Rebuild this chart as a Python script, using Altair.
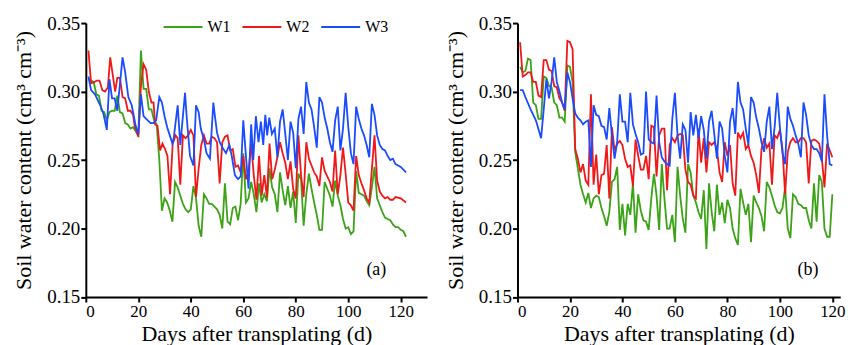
import altair as alt
import pandas as pd

SERIES = ["W1", "W2", "W3"]
COLORS = ["#3ca317", "#f01818", "#1a4bff"]
X_TICKS = [0, 20, 40, 60, 80, 100, 120]
Y_TICKS = [0.15, 0.20, 0.25, 0.30, 0.35]
X_TITLE = "Days after transplating (d)"
Y_TITLE = "Soil water content (cm³ cm⁻³)"
PANEL_LABELS = ["(a)", "(b)"]

# ---------------- panel (a) ----------------
A_W1_DAYS = list(range(1, 123))
A_W1 = [0.309, 0.308, 0.307, 0.298, 0.297, 0.286, 0.285, 0.279, 0.285, 0.286,
        0.286, 0.297, 0.285, 0.284, 0.277, 0.276, 0.273, 0.274, 0.271, 0.268,
        0.330, 0.302, 0.302, 0.287, 0.287, 0.279, 0.276, 0.250, 0.213, 0.222,
        0.219, 0.213, 0.205, 0.234, 0.230, 0.224, 0.218, 0.214, 0.212, 0.214,
        0.231, 0.222, 0.202, 0.194, 0.225, 0.222, 0.218, 0.218, 0.216, 0.214,
        0.210, 0.200, 0.233, 0.205, 0.203, 0.215, 0.216, 0.206, 0.218, 0.255,
        0.219, 0.222, 0.234, 0.225, 0.212, 0.233, 0.219, 0.225, 0.220, 0.244,
        0.230, 0.225, 0.212, 0.241, 0.228, 0.217, 0.231, 0.215, 0.227, 0.204,
        0.240, 0.236, 0.202, 0.225, 0.240, 0.229, 0.219, 0.210, 0.199, 0.199,
        0.234, 0.229, 0.224, 0.216, 0.235, 0.224, 0.217, 0.207, 0.200, 0.201,
        0.196, 0.198, 0.242, 0.226, 0.225, 0.224, 0.220, 0.217, 0.230, 0.245,
        0.222, 0.217, 0.212, 0.208, 0.207, 0.206, 0.203, 0.201, 0.201, 0.199,
        0.198, 0.194]

A_W2_DAYS = [1, 2, 3.3, 4.2, 5.2, 6.3, 7.3, 8.4, 9.3, 10.5,
             11.2, 12, 13, 14, 15, 16, 17, 18, 18.7, 19.5,
             20, 21, 22, 23, 24, 25, 25.8, 26.4, 27.3, 28.3,
             29.2, 30.2, 31.1, 32.1, 33.1, 34.2, 35, 36, 37, 38,
             39, 40, 41, 42, 43, 44, 45, 46, 47, 48,
             49, 50, 51, 52, 53, 54, 55, 56, 57, 58,
             59, 60, 61, 62, 63, 64, 65, 66, 67, 68,
             69, 70, 71, 72, 73, 74, 75, 76, 77, 78,
             79, 80, 81, 82, 83, 84, 85, 86, 87, 88,
             89, 90, 91, 92, 93, 94, 95, 96, 97, 98,
             99, 100, 101, 102, 103, 104, 105, 106, 107, 108,
             110, 111, 112, 113, 114, 115, 116, 117, 118, 120,
             122]
A_W2 = [0.330, 0.306, 0.307, 0.308, 0.308, 0.301, 0.300, 0.303, 0.325, 0.309,
        0.300, 0.310, 0.310, 0.296, 0.295, 0.286, 0.286, 0.283, 0.274, 0.270,
        0.267, 0.304, 0.320, 0.316, 0.300, 0.292, 0.292, 0.276, 0.275, 0.257,
        0.262, 0.258, 0.253, 0.225, 0.262, 0.268, 0.266, 0.232, 0.268, 0.266,
        0.268, 0.272, 0.268, 0.223, 0.244, 0.261, 0.268, 0.262, 0.262, 0.267,
        0.266, 0.263, 0.233, 0.263, 0.267, 0.268, 0.257, 0.258, 0.245, 0.246,
        0.241, 0.253, 0.236, 0.242, 0.262, 0.239, 0.221, 0.253, 0.224, 0.239,
        0.223, 0.262, 0.236, 0.243, 0.252, 0.263, 0.255, 0.248, 0.236, 0.249,
        0.229, 0.222, 0.268, 0.239, 0.223, 0.263, 0.251, 0.246, 0.241, 0.238,
        0.231, 0.252, 0.242, 0.238, 0.234, 0.227, 0.257, 0.225, 0.239, 0.259,
        0.240, 0.219, 0.217, 0.213, 0.253, 0.239, 0.233, 0.228, 0.222, 0.219,
        0.268, 0.235, 0.227, 0.224, 0.222, 0.223, 0.221, 0.221, 0.223, 0.222,
        0.219]

A_W3_DAYS = [1, 2, 3.5, 5.5, 6.7, 8, 9, 10, 11, 12,
             14, 15, 16.2, 17.5, 19, 20, 21, 22, 23, 24.7,
             25.7, 26.8, 28, 29, 30, 31, 32, 33, 33.5, 35,
             36, 37.8, 38.5, 39.7, 41, 42, 43, 43.8, 45, 46,
             47.3, 48.6, 49, 50, 51, 52.4, 53.4, 54.7, 55.6, 56.8,
             58, 59, 60, 61, 62, 63, 63.8, 64.8, 65.8, 66.7,
             67.6, 68.4, 69.1, 69.9, 70.9, 72, 73, 74, 75, 76,
             77, 78, 79, 80, 81, 82, 83, 84, 85, 86,
             87, 88, 89, 90, 91, 92, 93, 94, 95, 96,
             97, 98, 99, 100, 101, 102, 103, 104, 105, 106,
             107, 108, 109, 110, 111, 112, 113, 114, 115, 116,
             117, 118, 119, 120, 122]
A_W3 = [0.311, 0.301, 0.298, 0.290, 0.284, 0.272, 0.309, 0.295, 0.295, 0.286,
        0.325, 0.314, 0.296, 0.290, 0.275, 0.269, 0.298, 0.282, 0.280, 0.277,
        0.277, 0.279, 0.296, 0.292, 0.282, 0.274, 0.268, 0.262, 0.266, 0.290,
        0.261, 0.299, 0.280, 0.253, 0.246, 0.290, 0.285, 0.273, 0.265, 0.255,
        0.251, 0.292, 0.285, 0.270, 0.263, 0.258, 0.255, 0.261, 0.253, 0.239,
        0.236, 0.238, 0.279, 0.253, 0.229, 0.276, 0.250, 0.282, 0.263, 0.278,
        0.261, 0.283, 0.268, 0.281, 0.269, 0.273, 0.252, 0.278, 0.287, 0.269,
        0.250, 0.278, 0.270, 0.244, 0.280, 0.289, 0.269, 0.307, 0.292, 0.287,
        0.274, 0.259, 0.296, 0.292, 0.281, 0.273, 0.263, 0.256, 0.279, 0.289,
        0.257, 0.273, 0.299, 0.274, 0.255, 0.247, 0.289, 0.280, 0.273, 0.268,
        0.261, 0.252, 0.291, 0.283, 0.268, 0.261, 0.258, 0.257, 0.253, 0.250,
        0.251, 0.247, 0.246, 0.245, 0.241]

# ---------------- panel (b) ----------------
B_W1_DAYS = list(range(1, 121))
B_W1 = [0.318, 0.314, 0.315, 0.324, 0.323, 0.292, 0.290, 0.280, 0.280, 0.311,
        0.310, 0.304, 0.303, 0.292, 0.290, 0.281, 0.281, 0.278, 0.319, 0.318,
        0.307, 0.256, 0.244, 0.232, 0.225, 0.219, 0.226, 0.215, 0.222, 0.224,
        0.223, 0.215, 0.209, 0.202, 0.212, 0.234, 0.236, 0.245, 0.199, 0.218,
        0.195, 0.218, 0.210, 0.233, 0.197, 0.225, 0.213, 0.206, 0.205, 0.199,
        0.222, 0.240, 0.224, 0.199, 0.247, 0.222, 0.200, 0.200, 0.210, 0.190,
        0.245, 0.224, 0.207, 0.197, 0.247, 0.241, 0.224, 0.219, 0.212, 0.207,
        0.228, 0.185, 0.233, 0.212, 0.198, 0.232, 0.210, 0.219, 0.204, 0.221,
        0.215, 0.200, 0.193, 0.188, 0.229, 0.219, 0.210, 0.218, 0.190, 0.224,
        0.219, 0.215, 0.209, 0.198, 0.234, 0.230, 0.224, 0.217, 0.212, 0.211,
        0.215, 0.230, 0.200, 0.193, 0.225, 0.223, 0.218, 0.217, 0.215, 0.215,
        0.206, 0.200, 0.233, 0.205, 0.239, 0.234, 0.200, 0.194, 0.194, 0.225]

B_W2_DAYS = list(range(1, 119)) + [120]
B_W2 = [0.336, 0.311, 0.312, 0.314, 0.314, 0.307, 0.307, 0.297, 0.296, 0.323,
        0.323, 0.316, 0.315, 0.304, 0.303, 0.295, 0.292, 0.286, 0.337, 0.336,
        0.331, 0.258, 0.251, 0.241, 0.247, 0.235, 0.232, 0.298, 0.232, 0.254,
        0.225, 0.239, 0.240, 0.261, 0.222, 0.274, 0.257, 0.262, 0.264, 0.261,
        0.251, 0.245, 0.246, 0.231, 0.265, 0.253, 0.243, 0.243, 0.253, 0.236,
        0.275, 0.274, 0.238, 0.268, 0.273, 0.273, 0.228, 0.261, 0.266, 0.263,
        0.268, 0.269, 0.268, 0.243, 0.234, 0.232, 0.224, 0.222, 0.273, 0.248,
        0.266, 0.241, 0.263, 0.261, 0.263, 0.258, 0.241, 0.234, 0.263, 0.253,
        0.261, 0.233, 0.224, 0.270, 0.266, 0.270, 0.258, 0.261, 0.253, 0.248,
        0.239, 0.226, 0.258, 0.266, 0.259, 0.262, 0.232, 0.268, 0.266, 0.272,
        0.258, 0.225, 0.256, 0.263, 0.266, 0.263, 0.263, 0.266, 0.266, 0.263,
        0.233, 0.264, 0.265, 0.264, 0.262, 0.251, 0.230, 0.262, 0.252]

B_W3_DAYS = [1, 2, 3, 5, 7, 9] + list(range(10, 121))
B_W3 = [0.301, 0.301, 0.296, 0.287, 0.279, 0.266,
        0.287, 0.309, 0.295, 0.307, 0.325, 0.307, 0.300, 0.292, 0.287, 0.314,
        0.307, 0.295, 0.284, 0.281, 0.279, 0.276, 0.278, 0.279, 0.245, 0.290,
        0.283, 0.282, 0.275, 0.274, 0.265, 0.288, 0.268, 0.251, 0.263, 0.298,
        0.278, 0.278, 0.263, 0.299, 0.276, 0.269, 0.263, 0.254, 0.255, 0.300,
        0.265, 0.263, 0.262, 0.297, 0.263, 0.252, 0.249, 0.247, 0.246, 0.280,
        0.299, 0.268, 0.251, 0.276, 0.272, 0.248, 0.285, 0.268, 0.283, 0.266,
        0.282, 0.272, 0.251, 0.278, 0.286, 0.269, 0.251, 0.278, 0.273, 0.253,
        0.241, 0.278, 0.288, 0.269, 0.307, 0.292, 0.287, 0.273, 0.261, 0.296,
        0.292, 0.281, 0.273, 0.263, 0.256, 0.278, 0.289, 0.258, 0.274, 0.299,
        0.274, 0.255, 0.247, 0.289, 0.280, 0.275, 0.268, 0.262, 0.252, 0.292,
        0.283, 0.268, 0.261, 0.258, 0.258, 0.255, 0.249, 0.298, 0.268, 0.247,
        0.246]

FONT = "Liberation Serif"
H = 274.6


def frame(parts):
    rows = []
    for name, days, vals in parts:
        rows.append(pd.DataFrame({"day": days, "swc": vals, "series": name}))
    return pd.concat(rows, ignore_index=True)


def panel(df, xmax, width, label, show_legend):
    if show_legend:
        leg = alt.Legend(orient="none", legendX=77, legendY=-16.7, direction="horizontal",
                         title=None, symbolType="stroke", symbolSize=1521,
                         symbolStrokeWidth=2, labelFont=FONT, labelFontSize=16,
                         labelColor="black", labelOffset=4, columnPadding=7, padding=0)
    else:
        leg = None
    x = alt.X("day:Q", scale=alt.Scale(domain=[0, xmax], nice=False, zero=False),
              axis=alt.Axis(values=X_TICKS, title=X_TITLE, labelBaseline="alphabetic",
                            labelPadding=14.7, titleY=44, titleBaseline="alphabetic"))
    y = alt.Y("swc:Q", scale=alt.Scale(domain=[0.15, 0.35], nice=False, zero=False),
              axis=alt.Axis(values=Y_TICKS, format=".2f", title=Y_TITLE, labelPadding=1,
                            titleX=-55.5, titleY=H / 2, titleBaseline="alphabetic",
                            titleAngle=-90, labelFontSize=19))
    lines = alt.Chart(df).mark_line(strokeWidth=1.8).encode(
        x=x, y=y,
        color=alt.Color("series:N", scale=alt.Scale(domain=SERIES, range=COLORS), legend=leg),
    )
    lab_df = pd.DataFrame({"day": [110.7], "swc": [0.17], "t": [label]})
    text = alt.Chart(lab_df).mark_text(font=FONT, fontSize=18, color="black").encode(
        x="day:Q", y="swc:Q", text="t:N")
    return alt.layer(lines, text).properties(width=width, height=H)


df_a = frame([("W1", A_W1_DAYS, A_W1), ("W2", A_W2_DAYS, A_W2), ("W3", A_W3_DAYS, A_W3)])
df_b = frame([("W1", B_W1_DAYS, B_W1), ("W2", B_W2_DAYS, B_W2), ("W3", B_W3_DAYS, B_W3)])

pa = panel(df_a, 130, 342, PANEL_LABELS[0], True)
pb = panel(df_b, 123, 323.5, PANEL_LABELS[1], False)

chart = alt.hconcat(pa, pb, spacing=90.7, bounds="flush").resolve_scale(
    color="independent").resolve_legend(color="independent").properties(
    padding={"left": 4, "top": -2.3, "right": 0, "bottom": 0},
    background="white",
).configure_view(stroke=None).configure_axis(
    grid=False, domainColor="black", domainWidth=2, tickColor="black", tickWidth=2,
    tickSize=5, labelFont=FONT, labelFontSize=17, labelColor="black",
    titleFont=FONT, titleFontSize=22, titleFontWeight="normal", titleColor="black",
)

chart.save("out.html", embed_options={"renderer": "svg", "actions": False})
